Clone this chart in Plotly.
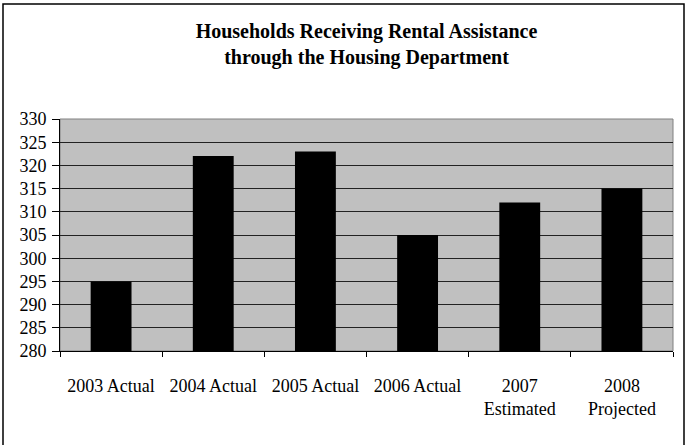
import plotly.graph_objects as go

categories = ["2003 Actual", "2004 Actual", "2005 Actual", "2006 Actual", "2007<br>Estimated", "2008<br>Projected"]
households = [295, 322, 323, 305, 312, 315]
y_ticks = list(range(280, 331, 5))

W, H = 688, 445
L, R, T, B = 60, 15, 119, 94
pw, ph = W - L - R, H - T - B

def px_x(p):
    return (p - L) / pw

def px_y(p):
    return (H - B - p) / ph

fig = go.Figure()
fig.add_trace(go.Bar(
    x=categories, y=households, width=0.4,
    marker=dict(color="black", line=dict(width=0)),
))

font = "Liberation Serif, Times New Roman, serif"
fig.update_layout(
    width=W, height=H,
    margin=dict(l=L, r=R, t=T, b=B),
    paper_bgcolor="white", plot_bgcolor="#C0C0C0",
    showlegend=False,
    font=dict(family=font, size=18, color="black"),
    title=dict(
        text="<b>Households Receiving Rental Assistance<br>through the Housing Department</b>",
        x=0.5, xref="paper", xanchor="center",
        y=1 - 38 / H, yref="container", yanchor="middle",
        font=dict(family=font, size=20, color="black"),
    ),
    bargap=0.6,
    xaxis=dict(
        type="category", tickson="boundaries", ticks="outside", ticklen=5,
        tickcolor="black", showline=True, linecolor="black", linewidth=1,
        showgrid=False, ticklabelstandoff=18,
        tickfont=dict(family=font, size=18),
    ),
    yaxis=dict(
        range=[280, 330], tickvals=y_ticks, ticks="outside", ticklen=7,
        tickcolor="black", showline=True, linecolor="black", linewidth=1,
        showgrid=True, gridcolor="#222222", gridwidth=1,
        tickfont=dict(family=font, size=18), ticklabelstandoff=2,
        zeroline=False,
    ),
    shapes=[
        dict(type="rect", xref="paper", yref="paper", x0=0, x1=1, y0=0, y1=1,
             line=dict(color="#808080", width=1), layer="below"),
        dict(type="rect", xref="paper", yref="paper",
             x0=px_x(3), x1=px_x(684), y0=px_y(446), y1=px_y(4),
             line=dict(color="black", width=1.5)),
    ],
)

fig.write_html("out.html")
